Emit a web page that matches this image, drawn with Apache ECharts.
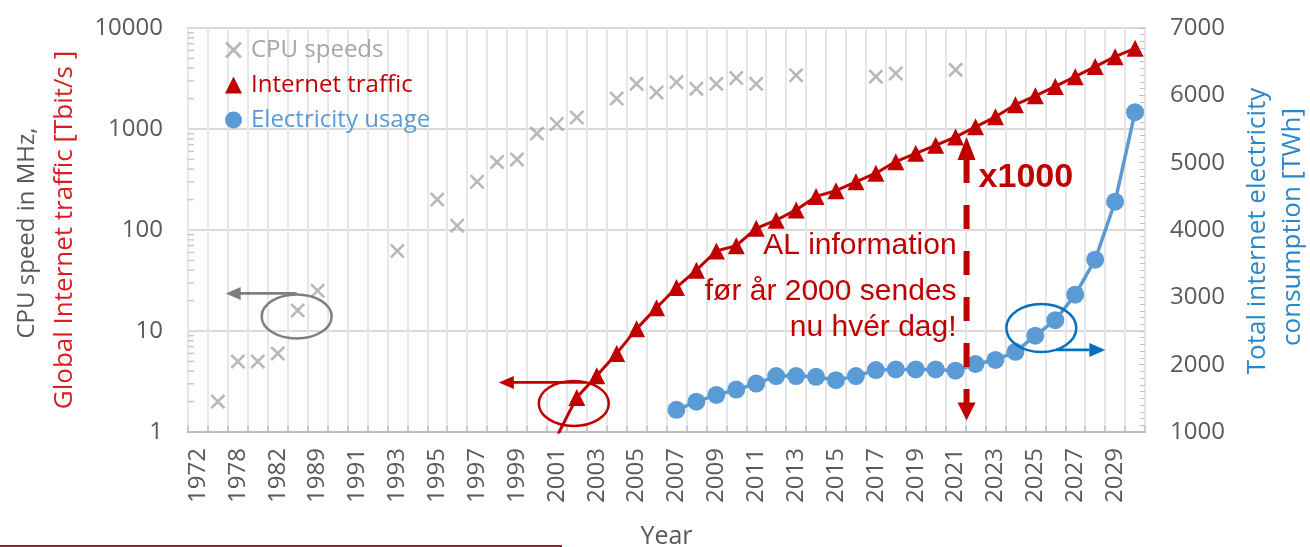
<!DOCTYPE html>
<html>
<head>
<meta charset="utf-8">
<script src="https://cdn.jsdelivr.net/npm/echarts@6/dist/echarts.min.js"></script>
<style>
  html, body { margin: 0; padding: 0; background: #ffffff; }
  #chart { width: 1310px; height: 547px; }
</style>
</head>
<body>
<div id="chart"></div>
<script>
// Category axis: a few early years, then every year 1991-2030
const years = ['1972', '1974', '1978', '1979', '1982', '1985', '1989', '1990',
  '1991', '1992', '1993', '1994', '1995', '1996', '1997', '1998', '1999', '2000',
  '2001', '2002', '2003', '2004', '2005', '2006', '2007', '2008', '2009', '2010',
  '2011', '2012', '2013', '2014', '2015', '2016', '2017', '2018', '2019', '2020',
  '2021', '2022', '2023', '2024', '2025', '2026', '2027', '2028', '2029', '2030'];

// CPU clock speeds (MHz)
const cpuYears = ['1974', '1978', '1979', '1982', '1985', '1989', '1993', '1995', '1996',
  '1997', '1998', '1999', '2000', '2001', '2002', '2004', '2005', '2006', '2007',
  '2008', '2009', '2010', '2011', '2013', '2017', '2018', '2021'];
const cpuMHz = [2, 5, 5, 6, 16, 25, 62, 200, 110,
  300, 470, 500, 900, 1120, 1300, 2000, 2800, 2300, 2900,
  2500, 2800, 3200, 2800, 3400, 3300, 3550, 3850];

// Global internet traffic (Tbit/s)
const trafficYears = ['2001', '2002', '2003', '2004', '2005', '2006', '2007', '2008', '2009',
  '2010', '2011', '2012', '2013', '2014', '2015', '2016', '2017', '2018', '2019', '2020',
  '2021', '2022', '2023', '2024', '2025', '2026', '2027', '2028', '2029', '2030'];
const trafficTbit = [0.9, 2.2, 3.6, 6.0, 10.5, 17, 27, 40, 62,
  70, 104, 125, 158, 215, 245, 300, 365, 475, 575, 690,
  835, 1050, 1320, 1740, 2130, 2640, 3300, 4150, 5200, 6300];

// Total internet electricity consumption (TWh)
const elecYears = ['2007', '2008', '2009', '2010', '2011', '2012', '2013', '2014', '2015',
  '2016', '2017', '2018', '2019', '2020', '2021', '2022', '2023', '2024', '2025',
  '2026', '2027', '2028', '2029', '2030'];
const elecTWh = [1330, 1450, 1550, 1630, 1720, 1830, 1830, 1820, 1770,
  1830, 1920, 1930, 1930, 1930, 1910, 2010, 2070, 2190, 2430,
  2660, 3040, 3560, 4420, 5750];

const leftTicks = [1, 10, 100, 1000, 10000];

const GRAY = '#A6A6A6';
const RED = '#C00000';
const BLUE = '#5B9BD5';
const TXT = '#595959';
const FONT = '"Open Sans", "DejaVu Sans", sans-serif';
const CROSS = 'path://M0,1.2 L1.2,0 L5,3.8 L8.8,0 L10,1.2 L6.2,5 L10,8.8 L8.8,10 L5,6.2 L1.2,10 L0,8.8 L3.8,5 Z';

const plain = v => String(Math.round(v));

const chart = echarts.init(document.getElementById('chart'), null, { renderer: 'canvas' });

chart.setOption({
  animation: false,
  backgroundColor: '#ffffff',
  grid: {
    left: 188, right: 165, top: 28, bottom: 115,
    show: true, borderColor: '#D9D9D9', borderWidth: 2,
    containLabel: false, outerBoundsMode: 'none'
  },
  legend: {
    orient: 'vertical', left: 220, top: 33,
    itemWidth: 17, itemHeight: 17, itemGap: 11,
    textStyle: { fontFamily: FONT, fontSize: 24, lineHeight: 24, padding: [0, 0, 0, 4] },
    data: [
      { name: 'CPU speeds', icon: CROSS, textStyle: { color: GRAY } },
      { name: 'Internet traffic', icon: 'triangle', textStyle: { color: RED } },
      { name: 'Electricity usage', icon: 'circle', textStyle: { color: BLUE } }
    ]
  },
  xAxis: {
    type: 'category',
    data: years,
    boundaryGap: true,
    axisLine: { show: true, lineStyle: { color: '#BFBFBF', width: 2 } },
    axisTick: { show: true, inside: true, interval: 0, length: 6, lineStyle: { color: '#BFBFBF', width: 1.5 } },
    axisLabel: { interval: 1, rotate: 90, margin: 16, color: TXT, fontFamily: FONT, fontSize: 24 },
    splitLine: { show: true, interval: 0, lineStyle: { color: '#E6E6E6', width: 2 } },
    name: 'Year', nameLocation: 'middle', nameGap: 92,
    nameTextStyle: { color: TXT, fontFamily: FONT, fontSize: 25 }
  },
  yAxis: [
    {
      type: 'log', logBase: 10, min: leftTicks[0], max: leftTicks[leftTicks.length - 1],
      position: 'left',
      axisLine: { show: false },
      axisTick: { show: false },
      axisLabel: { color: TXT, fontFamily: FONT, fontSize: 24, margin: 25, formatter: plain },
      splitLine: { show: true, lineStyle: { color: '#D9D9D9', width: 2 } }
    },
    {
      type: 'value', min: 1000, max: 7000, interval: 1000,
      position: 'right',
      axisLine: { show: false },
      axisTick: { show: true, inside: true, length: 6, lineStyle: { color: '#BFBFBF' } },
      minorTick: { show: true, splitNumber: 10, length: 5, lineStyle: { color: '#BFBFBF' } },
      axisLabel: { color: TXT, fontFamily: FONT, fontSize: 24, margin: 25, formatter: plain },
      splitLine: { show: false }
    }
  ],
  series: [
    {
      name: 'CPU speeds', type: 'scatter', yAxisIndex: 0,
      symbol: CROSS, symbolSize: 15,
      itemStyle: { color: GRAY },
      data: cpuYears.map((y, i) => [y, cpuMHz[i]]),
      z: 2
    },
    {
      name: 'Internet traffic', type: 'line', yAxisIndex: 0,
      symbol: 'triangle', symbolSize: 17, showAllSymbol: true,
      itemStyle: { color: RED },
      lineStyle: { color: RED, width: 3 },
      clip: true,
      data: trafficYears.map((y, i) => [y, trafficTbit[i]]),
      z: 4
    },
    {
      name: 'Electricity usage', type: 'line', yAxisIndex: 1,
      symbol: 'circle', symbolSize: 18, showAllSymbol: true,
      itemStyle: { color: BLUE },
      lineStyle: { color: BLUE, width: 3.5 },
      data: elecYears.map((y, i) => [y, elecTWh[i]]),
      z: 3
    }
  ]
});

// ---- Annotations, anchored to the plotted data ----
const toPx = (seriesIndex, year, value) =>
  chart.convertToPixel({ seriesIndex: seriesIndex }, [years.indexOf(year), value]);

function arrowHead(tip, dir, len, half, color) {
  // dir: unit vector pointing towards the tip
  const bx = tip[0] - dir[0] * len, by = tip[1] - dir[1] * len;
  const nx = -dir[1], ny = dir[0];
  return {
    type: 'polygon', silent: true, z: 100,
    shape: { points: [tip, [bx + nx * half, by + ny * half], [bx - nx * half, by - ny * half]] },
    style: { fill: color }
  };
}

function hLine(x1, x2, y, color, width) {
  return { type: 'line', silent: true, z: 100, shape: { x1: x1, y1: y, x2: x2, y2: y },
    style: { stroke: color, lineWidth: width } };
}

function ring(cx, cy, rx, ry, color) {
  return { type: 'ellipse', silent: true, z: 100, shape: { cx: cx, cy: cy, rx: rx, ry: ry },
    style: { fill: 'none', stroke: color, lineWidth: 2.5 } };
}

function label(x, y, text, font, color, align, rotation) {
  return {
    type: 'text', silent: true, z: 100, x: x, y: y, rotation: rotation || 0,
    style: { x: 0, y: 0, text: text, font: font, fill: color,
      align: align, verticalAlign: 'middle', textAlign: align, textVerticalAlign: 'middle' }
  };
}

const g = [];

// minor log ticks on the left edge of the plot
const plotLeft = chart.convertToPixel({ xAxisIndex: 0 }, 0) - 10;
for (let d = 0; d < leftTicks.length - 1; d++) {
  for (let k = 2; k <= 9; k++) {
    const y = chart.convertToPixel({ yAxisIndex: 0 }, leftTicks[d] * k);
    g.push(hLine(plotLeft, plotLeft + 6, y, '#C8C8C8', 1.5));
  }
}

// grey: CPU speeds belong to the left axis
const pc = toPx(0, '1985', 16);
g.push(ring(pc[0] - 1, pc[1] + 6, 35, 22, '#7F7F7F'));
g.push(hLine(pc[0] - 60, pc[0] - 1, pc[1] - 17, '#7F7F7F', 2.8));
g.push(arrowHead([pc[0] - 72, pc[1] - 17], [-1, 0], 15, 6.5, '#7F7F7F'));

// red: internet traffic belongs to the left axis
const pt = toPx(1, '2002', 2.2);
g.push(ring(pt[0] - 3, pt[1] + 6, 35, 22.5, RED));
g.push(hLine(pt[0] - 66, pt[0] + 9, pt[1] - 15, RED, 2.8));
g.push(arrowHead([pt[0] - 78, pt[1] - 15], [-1, 0], 15, 6.5, RED));

// blue: electricity belongs to the right axis
const pa = toPx(2, '2025', 2430), pb = toPx(2, '2026', 2660);
const bc = [(pa[0] + pb[0]) / 2 - 4, (pa[1] + pb[1]) / 2];
g.push(ring(bc[0], bc[1], 35, 24, '#0070C0'));
g.push(hLine(bc[0] + 15, bc[0] + 48, bc[1] + 22, '#0070C0', 2.8));
g.push(arrowHead([bc[0] + 64, bc[1] + 22], [1, 0], 16, 7, '#0070C0'));

// dashed x1000 double arrow between 2021 and 2022
const pTop = toPx(1, '2021', trafficTbit[trafficYears.indexOf('2021')]);
const pNext = toPx(1, '2022', 1);
const ax = (pTop[0] + pNext[0]) / 2 + 1;
const yTop = pTop[1];
const yBot = chart.convertToPixel({ yAxisIndex: 0 }, 1.3);
g.push({ type: 'line', silent: true, z: 100,
  shape: { x1: ax, y1: yTop + 22, x2: ax, y2: yBot - 16 },
  style: { stroke: RED, lineWidth: 6, lineDash: [24, 22] } });
g.push(arrowHead([ax, yTop], [0, -1], 23, 9, RED));
g.push(arrowHead([ax, yBot], [0, 1], 18, 9, RED));
g.push(label(ax + 12, yTop + 41, 'x1000', 'bold 34px "Liberation Sans", Arial, sans-serif', RED, 'left'));

const noteFont = '30px "Liberation Sans", Arial, sans-serif';
g.push(label(ax - 10, 246, 'AL information', noteFont, RED, 'right'));
g.push(label(ax - 10, 292, 'før år 2000 sendes', noteFont, RED, 'right'));
g.push(label(ax - 10, 328, 'nu hvér dag!', noteFont, RED, 'right'));

// axis titles
g.push(label(27, 233, 'CPU speed in MHz,', '24px ' + FONT, TXT, 'center', Math.PI / 2));
g.push(label(65, 230, 'Global Internet traffic [Tbit/s ]', '26px ' + FONT, '#D81E1E', 'center', Math.PI / 2));
g.push(label(1258, 231, 'Total internet electricity', '26px ' + FONT, '#2B86C8', 'center', Math.PI / 2));
g.push(label(1293, 227, 'consumption [TWh]', '26px ' + FONT, '#2B86C8', 'center', Math.PI / 2));

// rule under the chart
g.push(hLine(0, 562, 546, '#9E1B32', 2));

chart.setOption({ graphic: g });
</script>
</body>
</html>
